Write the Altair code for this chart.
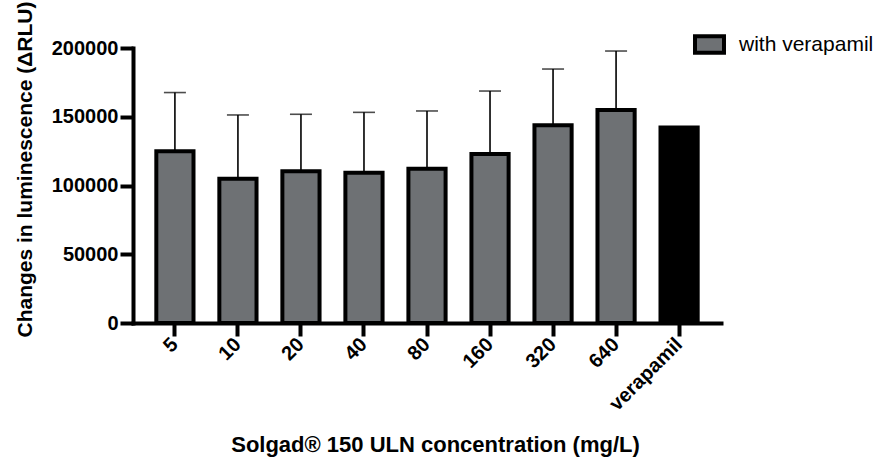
import altair as alt
import pandas as pd

# Solgad 150 ULN concentrations (mg/L) plus the verapamil control
categories = ["5", "10", "20", "40", "80", "160", "320", "640", "verapamil"]
mean_rlu = [124900, 104900, 110300, 109300, 112200, 122900, 143800, 154900, 142100]
sd_rlu = [42700, 46400, 41500, 43900, 42000, 45800, 40900, 42900, None]
series = ["with verapamil"] * 8 + ["verapamil"]

df = pd.DataFrame({
    "cat": categories,
    "mean": mean_rlu,
    "sd": sd_rlu,
    "series": series,
})
df["upper"] = df["mean"] + df["sd"]

FONT = "Liberation Sans"
GREY = "#6e7174"

x_enc = alt.X(
    "cat:N",
    sort=categories,
    scale=alt.Scale(paddingInner=0.41, paddingOuter=0.37),
    axis=alt.Axis(
        title="Solgad® 150 ULN concentration (mg/L)",
        labelAngle=-45,
        labelAlign="right",
        labelBaseline="middle",
        labelPadding=5,
        titleX=302,
        titleY=128,
        titleBaseline="alphabetic",
        titleAnchor="start",
        titleAlign="center",
        titleFontSize=22,
    ),
)
y_scale = alt.Scale(domain=[0, 200000], nice=False)
y_axis = alt.Axis(
    title="Changes in luminescence (ΔRLU)",
    values=[0, 50000, 100000, 150000, 200000],
    format="d",
    labelPadding=2,
    titleAngle=-90,
    titleX=-102,
    titleY=121,
    titleAlign="center",
    titleBaseline="alphabetic",
)

base = alt.Chart(df)

grey_bars = base.transform_filter(alt.datum.series == "with verapamil").mark_bar(
    stroke="black", strokeWidth=4
).encode(
    x=x_enc,
    y=alt.Y("mean:Q", scale=y_scale, axis=y_axis),
    fill=alt.Fill(
        "series:N",
        scale=alt.Scale(domain=["with verapamil"], range=[GREY]),
        legend=alt.Legend(
            title=None,
            orient="none",
            legendX=565,
            legendY=-15,
            symbolType="M-1.6,-0.9H1.6V0.9H-1.6Z",
            symbolSize=328,
            symbolStrokeColor="black",
            symbolStrokeWidth=4,
            symbolFillColor=GREY,
            labelFont=FONT,
            labelFontSize=21,
            labelColor="black",
            labelOffset=18,
        ),
    ),
)

control_bar = base.transform_filter(alt.datum.series == "verapamil").mark_bar(
    fill="black", stroke="black", strokeWidth=4
).encode(
    x=alt.X("cat:N", sort=categories),
    y=alt.Y("mean:Q", scale=y_scale),
)

err = base.transform_filter("isValid(datum.sd)")

err_lines = err.mark_rule(color="black", strokeWidth=1.6).encode(
    x=alt.X("cat:N", sort=categories),
    y=alt.Y("mean:Q", scale=y_scale),
    y2="upper:Q",
)

err_caps = err.mark_tick(color="black", thickness=1.6, size=22).encode(
    x=alt.X("cat:N", sort=categories),
    y=alt.Y("upper:Q", scale=y_scale),
)

chart = (
    alt.layer(grey_bars, control_bar, err_lines, err_caps)
    .properties(
        width=588,
        height=275,
        autosize=alt.AutoSizeParams(type="none"),
        padding={"left": 133, "top": 48, "right": 162, "bottom": 136},
        background="white",
    )
    .configure_view(stroke=None)
    .configure_axis(
        labelFont=FONT,
        labelFontSize=20,
        labelFontWeight="bold",
        labelColor="black",
        titleFont=FONT,
        titleFontSize=21,
        titleFontWeight="bold",
        titleColor="black",
        domainColor="black",
        domainWidth=4,
        domainCap="square",
        tickColor="black",
        tickWidth=4,
        tickSize=13,
        grid=False,
    )
)

chart.save("out.html", embed_options={"renderer": "svg", "actions": False})
